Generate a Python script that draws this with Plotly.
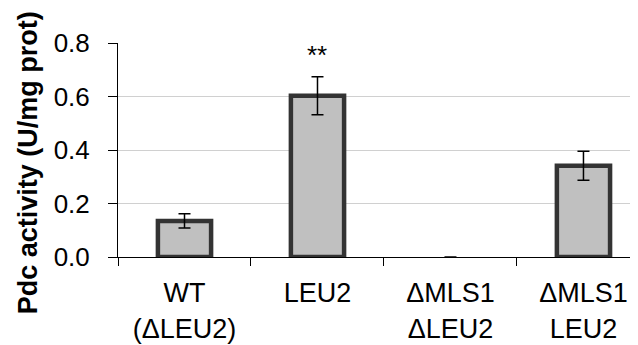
import plotly.graph_objects as go

categories = ["WT<br>(ΔLEU2)", "LEU2", "ΔMLS1<br>ΔLEU2", "ΔMLS1<br>LEU2"]
activity = [0.135, 0.603, 0.0, 0.341]
errors = [0.027, 0.071, 0.0, 0.054]
significance = ["", "**", "", ""]
y_ticks = [0.0, 0.2, 0.4, 0.6, 0.8]
y_tick_labels = ["0.0", "0.2", "0.4", "0.6", "0.8"]
y_title = "Pdc activity (U/mg prot)"

FONT = "Liberation Sans, Arial"

# the page body has an 8px default margin; the figure is sized/offset to compensate
fig = go.Figure()
fig.add_trace(go.Bar(
    x=categories,
    y=activity,
    width=0.40,
    marker=dict(color="#c0c0c0",
                line=dict(color="#333333", width=[4.5 if v > 0 else 0 for v in activity])),
    error_y=dict(type="data", array=errors, visible=True, color="black", thickness=1.5, width=6),
    cliponaxis=False,
))

for c, v, e, s in zip(categories, activity, errors, significance):
    if s:
        fig.add_annotation(x=c, y=v + e, text=s, showarrow=False, yshift=22,
                           font=dict(family=FONT, size=26, color="black"))

fig.add_annotation(text="<b>" + y_title + "</b>", xref="paper", yref="paper",
                   x=(27.5 - 118) / 520, y=0.44, xanchor="center", yanchor="middle",
                   textangle=-90, showarrow=False,
                   font=dict(family=FONT, size=27, color="black"))

fig.update_layout(
    width=630, height=337,
    margin=dict(l=110, r=0, t=35, b=88, autoexpand=False),
    plot_bgcolor="white", paper_bgcolor="white",
    showlegend=False,
    font=dict(family=FONT, size=26, color="black"),
)
fig.update_xaxes(
    range=[-0.5, 3.41],
    showline=True, linecolor="black", linewidth=1,
    ticks="outside", tickson="boundaries", ticklen=8, tickcolor="black",
    showgrid=False, automargin=False,
    tickfont=dict(size=27),
    ticklabelstandoff=12,
)
fig.update_yaxes(
    range=[0, 0.8],
    tickvals=y_ticks, ticktext=y_tick_labels,
    showline=True, linecolor="black", linewidth=1,
    ticks="outside", ticklen=9, tickcolor="black",
    showgrid=True, gridcolor="#d0d0d0", gridwidth=1,
    zeroline=False, automargin=False,
    tickfont=dict(size=26),
    ticklabelstandoff=13,
)

fig.write_html("out.html")
